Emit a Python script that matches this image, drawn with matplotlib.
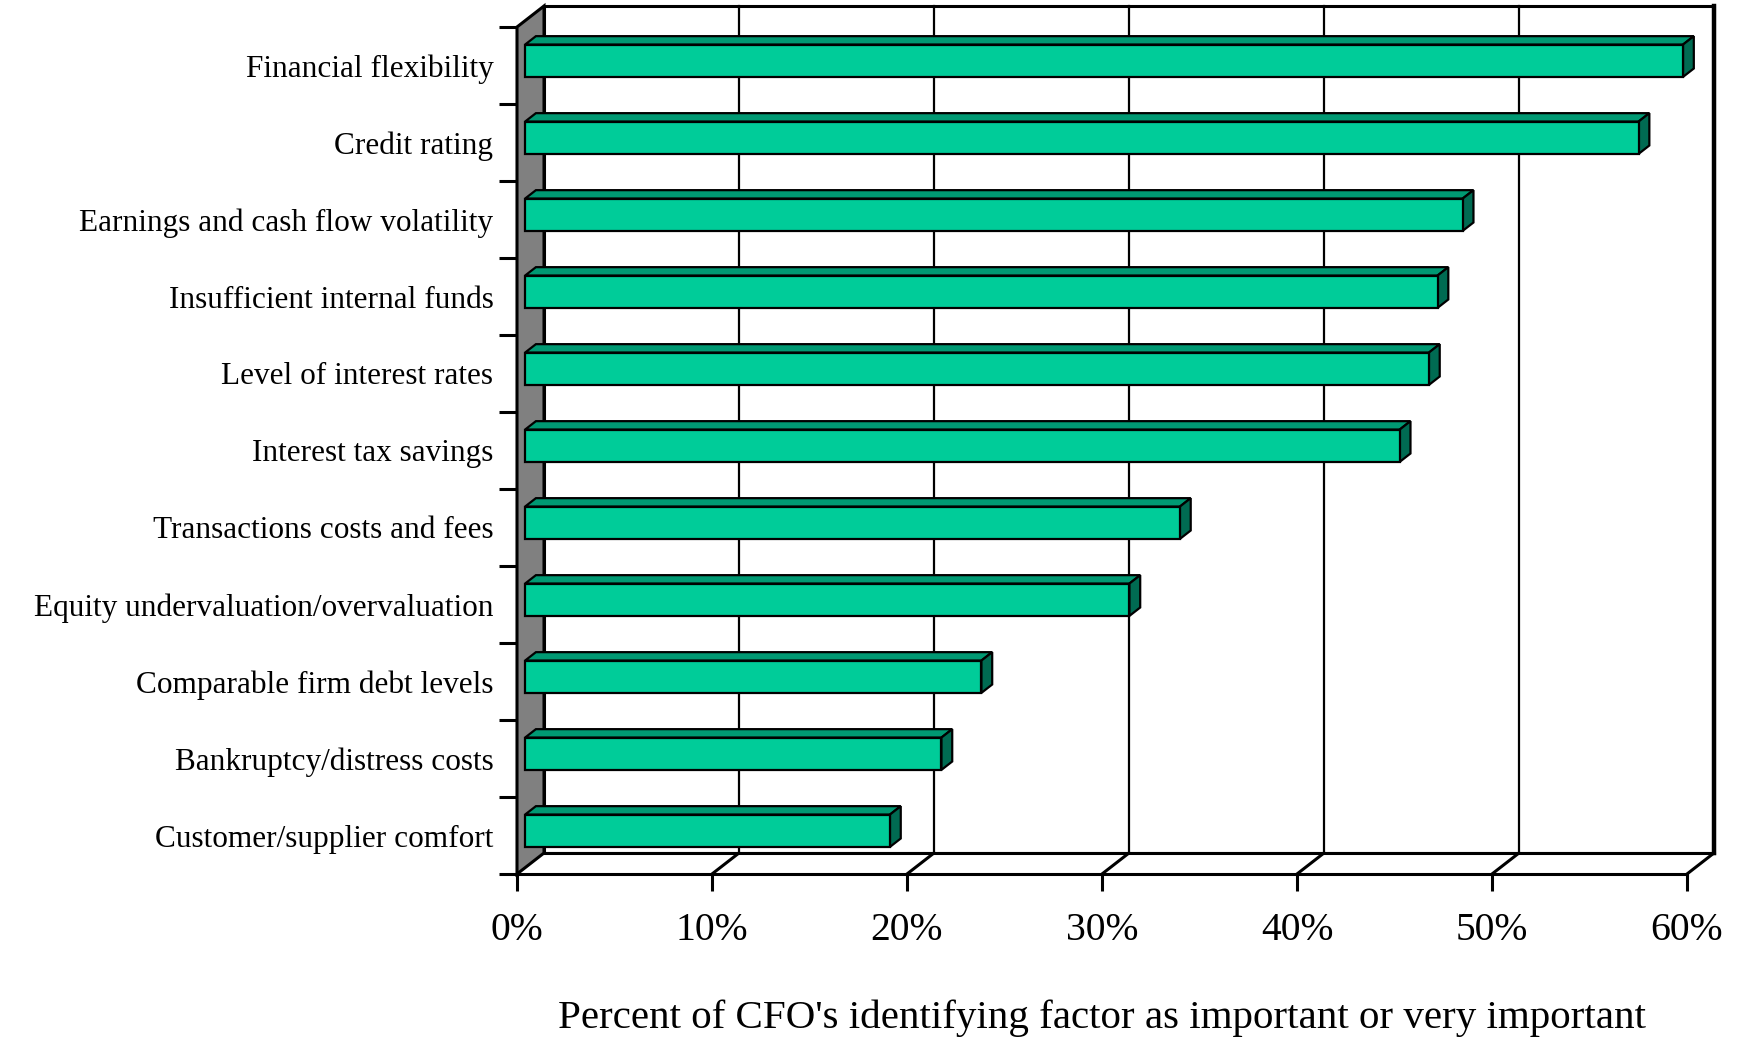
import numpy as np
import matplotlib.pyplot as plt
from matplotlib.patches import Polygon

plt.rcParams['font.family'] = 'Liberation Serif'

# factors listed top to bottom, as in the chart
factors = ["Financial flexibility", "Credit rating", "Earnings and cash flow volatility",
           "Insufficient internal funds", "Level of interest rates", "Interest tax savings",
           "Transactions costs and fees", "Equity undervaluation/overvaluation",
           "Comparable firm debt levels", "Bankruptcy/distress costs",
           "Customer/supplier comfort"]
percent = [59.38, 57.10, 48.08, 46.79, 46.35, 44.85, 33.58, 30.99, 23.40, 21.35, 18.71]

x_ticks = [0, 10, 20, 30, 40, 50, 60]
x_tick_labels = ["0%", "10%", "20%", "30%", "40%", "50%", "60%"]
x_label = "Percent of CFO's identifying factor as important or very important"

# depth of the pseudo 3d box in data units
DX, DY = 1.385, 0.273
FRONT = "#00CC99"
TOP = "#009973"
SIDE = "#006B52"

fig = plt.figure(figsize=(17.44, 10.41), dpi=100)
ax = fig.add_axes([517 / 1744, 167 / 1041, 1170 / 1744, 847 / 1041])
n = len(factors)
xmax = x_ticks[-1]
ax.set_xlim(0, xmax)
ax.set_ylim(0, n)

# back wall
ax.add_patch(Polygon([(DX, DY), (xmax + DX, DY), (xmax + DX, n + DY), (DX, n + DY)],
                     closed=True, facecolor="white", edgecolor="black", lw=2.2,
                     clip_on=False, zorder=1))
ax.plot([xmax + DX, xmax + DX], [DY, n + DY], color="black", lw=3.2, clip_on=False, zorder=2)
for t in x_ticks[1:-1]:
    ax.plot([t + DX, t + DX], [DY, n + DY], color="black", lw=1.6, clip_on=False, zorder=2)

# floor
ax.add_patch(Polygon([(0, 0), (xmax, 0), (xmax + DX, DY), (DX, DY)], closed=True,
                     facecolor="white", edgecolor="none", clip_on=False, zorder=1))
for t in x_ticks[1:]:
    ax.plot([t, t + DX], [0, DY], color="black", lw=2.2, clip_on=False, zorder=2)
ax.plot([DX, xmax + DX], [DY, DY], color="black", lw=2.2, clip_on=False, zorder=2)

# left wall
ax.add_patch(Polygon([(0, 0), (0, n), (DX, n + DY), (DX, DY)], closed=True,
                     facecolor="#808080", edgecolor="black", lw=2.2, clip_on=False, zorder=3))

# bars
d0, d1 = 0.3, 0.7
for i, (name, v) in enumerate(zip(factors, percent)):
    k = n - 1 - i
    y0, y1 = k + 0.27, k + 0.69
    front = [(d0 * DX, y0 + d0 * DY), (v + d0 * DX, y0 + d0 * DY),
             (v + d0 * DX, y1 + d0 * DY), (d0 * DX, y1 + d0 * DY)]
    top = [(d0 * DX, y1 + d0 * DY), (v + d0 * DX, y1 + d0 * DY),
           (v + d1 * DX, y1 + d1 * DY), (d1 * DX, y1 + d1 * DY)]
    side = [(v + d0 * DX, y0 + d0 * DY), (v + d1 * DX, y0 + d1 * DY),
            (v + d1 * DX, y1 + d1 * DY), (v + d0 * DX, y1 + d0 * DY)]
    for pts, c in [(top, TOP), (side, SIDE), (front, FRONT)]:
        ax.add_patch(Polygon(pts, closed=True, facecolor=c, edgecolor="black",
                             lw=1.6, clip_on=False, zorder=4))

# axes, ticks and labels
for s in ["top", "right"]:
    ax.spines[s].set_visible(False)
ax.spines["left"].set_visible(False)
ax.spines["bottom"].set_linewidth(2.2)
ax.spines["bottom"].set_zorder(5)

ax.set_xticks(x_ticks)
ax.set_xticklabels(x_tick_labels, fontsize=28.5)
ax.tick_params(axis="x", direction="out", length=12, width=2.2, pad=15)

ax.set_yticks(np.arange(n + 1))
ax.set_yticklabels([])
ax.tick_params(axis="y", which="major", direction="out", length=13, width=2.2)
ax.set_yticks(np.arange(n) + 0.5, minor=True)
ax.set_yticklabels(factors[::-1], minor=True, fontsize=22.5)
ax.tick_params(axis="y", which="minor", length=0, pad=17)

ax.set_xlabel(x_label, fontsize=29.5, labelpad=37)
ax.patch.set_visible(False)

fig.savefig("out.png", dpi=100)
